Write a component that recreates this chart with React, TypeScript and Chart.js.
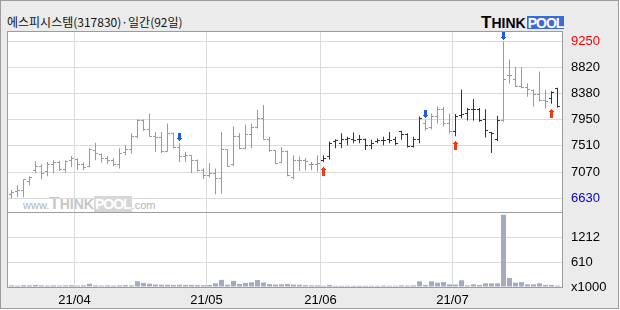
import React, { useEffect, useRef } from 'react';
import { Chart, registerables } from 'chart.js';

Chart.register(...registerables);

const TITLE = '에스피시스템(317830)·일간(92일)';

// Daily OHLC (92 trading days, 2021-03-17 .. 2021-07-26)
const opens = [
  6700, 6740, 6770, 6910, 7100, 7160, 7080, 7190, 7230, 7120,
  7260, 7280, 7190, 7160, 7430, 7370, 7300, 7270, 7200, 7390,
  7450, 7670, 7930, 7780, 7670, 7650, 7420, 7720, 7480, 7330,
  7340, 7260, 7090, 7020, 7040, 6960, 7440, 7190, 7660, 7470,
  7690, 7820, 7970, 7610, 7430, 7230, 7410, 6980, 7260, 7270,
  7200, 7190, 7260, 7330, 7580, 7550, 7620, 7610, 7610, 7610,
  7520, 7580, 7590, 7610, 7610, 7740, 7690, 7500, 7620, 7880,
  7820, 8000, 8120, 7880, 7740, 8010, 8050, 8120, 8120, 7950,
  7730, 7620, 7930, 8680, 8620, 8500, 8490, 8440, 8360, 8260,
  8300, 8470,
];
const highs = [
  6770, 6850, 6950, 7000, 7250, 7200, 7240, 7270, 7260, 7270,
  7340, 7300, 7230, 7470, 7560, 7380, 7340, 7300, 7470, 7520,
  7720, 7950, 7950, 8050, 7740, 7740, 7880, 7730, 7550, 7410,
  7350, 7280, 7130, 7220, 7130, 7740, 7450, 7830, 7720, 7860,
  7880, 8110, 8190, 7660, 7440, 7490, 7430, 7350, 7330, 7300,
  7240, 7350, 7350, 7580, 7620, 7720, 7660, 7730, 7690, 7630,
  7610, 7630, 7660, 7740, 7660, 7760, 7720, 7660, 8000, 7940,
  8050, 8170, 8160, 8050, 8040, 8450, 8140, 8290, 8140, 8120,
  7740, 8010, 9250, 8950, 8830, 8820, 8550, 8450, 8750, 8440,
  8420, 8480,
];
const lows = [
  6630, 6660, 6650, 6850, 7050, 6950, 7000, 7050, 7090, 7060,
  7150, 7100, 7100, 7150, 7270, 7230, 7200, 7170, 7130, 7350,
  7380, 7630, 7760, 7660, 7410, 7390, 7410, 7470, 7240, 7240,
  7050, 7080, 6950, 6980, 6700, 6710, 7160, 7170, 7450, 7450,
  7470, 7800, 7610, 7410, 7200, 7220, 7000, 6950, 7090, 7100,
  7100, 7080, 7240, 7280, 7470, 7470, 7520, 7550, 7550, 7440,
  7450, 7550, 7520, 7550, 7520, 7610, 7480, 7480, 7550, 7760,
  7780, 7880, 7830, 7720, 7670, 7970, 7930, 7930, 7910, 7650,
  7390, 7590, 7910, 8550, 8490, 8470, 8330, 8160, 8250, 8130,
  8210, 8150,
];
const closes = [
  6730, 6770, 6940, 6980, 7160, 7050, 7190, 7230, 7120, 7240,
  7300, 7200, 7150, 7440, 7380, 7300, 7270, 7200, 7380, 7450,
  7660, 7930, 7780, 7670, 7650, 7410, 7720, 7480, 7330, 7350,
  7270, 7090, 7020, 7040, 6960, 7440, 7170, 7660, 7470, 7690,
  7820, 7970, 7610, 7430, 7210, 7410, 7020, 7260, 7270, 7240,
  7200, 7210, 7300, 7550, 7590, 7610, 7630, 7590, 7620, 7520,
  7550, 7590, 7590, 7590, 7550, 7700, 7490, 7620, 7970, 7800,
  8000, 8110, 7880, 7740, 8000, 8040, 8120, 8110, 7940, 7770,
  7720, 7930, 8620, 8690, 8500, 8490, 8450, 8360, 8260, 8250,
  8400, 8160,
];
// Volume in thousands of shares
const volumes = [
  40, 35, 45, 40, 50, 40, 35, 40, 35, 40,
  45, 35, 40, 80, 40, 35, 40, 35, 40, 45,
  40, 140, 100, 80, 60, 55, 55, 50, 55, 50,
  50, 45, 45, 50, 90, 175, 55, 150, 75, 100,
  115, 170, 110, 70, 60, 65, 75, 60, 55, 45,
  40, 40, 30, 50, 30, 30, 30, 30, 30, 30,
  30, 30, 35, 30, 30, 40, 35, 40, 140, 50,
  140, 105, 120, 65, 60, 165, 40, 65, 50, 90,
  90, 90, 1770, 220, 105, 120, 65, 65, 90, 50,
  50, 35,
];
const buySignals = [52, 74, 90];
const sellSignals = [28, 69, 82];
const monthTickPos = [10.5, 32.5, 51.5, 73.5];
const monthTickLabels = ['21/04', '21/05', '21/06', '21/07'];
const priceTicks = [6630, 7070, 7510, 7950, 8380, 8820, 9250];
const volumeTicks = [0, 610, 1212];
const volumeTickLabels = ['x1000', '610', '1212'];

const XMIN = -0.5 - 1 / 12;
const XMAX = XMIN + 554 / 6;
const PPX = 2620 / 157;
const PMAX = 9250 + 9.5 * PPX;
const PMIN = 6630 - 13.5 * PPX;
const VMAX = 74 * (1212 / 49.5);

const DARK = '#333333';
const GRAY = '#9a9a9a';
const GRID = '#dadada';
const VOLCOLOR = '#a3aac2';
const AXISFONT = { family: "'Liberation Sans Narrow', 'Liberation Sans', Arial, sans-serif", size: 13 };

function pixelCanvas(w: number, h: number, color: string, rects: number[][]) {
  const c = document.createElement('canvas');
  c.width = w;
  c.height = h;
  const g = c.getContext('2d')!;
  g.fillStyle = color;
  rects.forEach(([x, y, rw, rh]) => g.fillRect(x, y, rw, rh));
  return c;
}

const crisp = {
  id: 'crisp',
  beforeDatasetsDraw(chart: any) {
    chart.ctx.imageSmoothingEnabled = false;
  },
};

export default function App() {
  const priceRef = useRef<HTMLCanvasElement>(null);
  const volRef = useRef<HTMLCanvasElement>(null);

  useEffect(() => {
    const barColors: string[] = [];
    let dark = false;
    for (let i = 0; i < closes.length; i++) {
      if (buySignals.includes(i)) dark = true;
      if (sellSignals.includes(i)) dark = false;
      barColors.push(dark ? DARK : GRAY);
    }
    const openTick: Record<string, HTMLCanvasElement> = {
      [DARK]: pixelCanvas(5, 1, DARK, [[0, 0, 2, 1]]),
      [GRAY]: pixelCanvas(5, 1, GRAY, [[0, 0, 2, 1]]),
    };
    const closeTick: Record<string, HTMLCanvasElement> = {
      [DARK]: pixelCanvas(5, 1, DARK, [[3, 0, 2, 1]]),
      [GRAY]: pixelCanvas(5, 1, GRAY, [[3, 0, 2, 1]]),
    };
    const downArrow = pixelCanvas(5, 24, '#1b5fe0', [
      [1, 2, 3, 5], [0, 7, 5, 1], [1, 8, 3, 1], [2, 9, 1, 1],
    ]);
    const upArrow = pixelCanvas(5, 32, '#f03c14', [
      [2, 21, 1, 1], [1, 22, 3, 1], [0, 23, 5, 1], [1, 24, 3, 6],
    ]);

    const xScale = (showLabels: boolean, height: number) => ({
      type: 'linear',
      min: XMIN,
      max: XMAX,
      offset: false,
      position: 'bottom',
      afterBuildTicks: (s: any) => {
        s.ticks = monthTickPos.map((v) => ({ value: v }));
      },
      afterFit: (s: any) => {
        s.height = height;
      },
      ticks: {
        display: showLabels,
        autoSkip: false,
        maxRotation: 0,
        padding: 6,
        color: '#000',
        font: AXISFONT,
        callback: (v: number) => monthTickLabels[monthTickPos.indexOf(v)],
      },
      grid: { color: GRID, drawTicks: false, offset: false },
      border: { display: false },
    });

    const priceChart = new Chart(priceRef.current!, {
      type: 'bar',
      data: {
        datasets: [
          {
            type: 'scatter',
            data: sellSignals.map((i) => ({ x: i, y: highs[i] })),
            pointStyle: downArrow,
            pointRadius: 1,
            clip: false,
            order: 0,
          } as any,
          {
            type: 'scatter',
            data: buySignals.map((i) => ({ x: i, y: lows[i] })),
            pointStyle: upArrow,
            pointRadius: 1,
            clip: false,
            order: 0,
          } as any,
          {
            type: 'scatter',
            data: opens.map((v, i) => ({ x: i, y: v })),
            pointStyle: (c: any) => openTick[barColors[c.dataIndex ?? 0]],
            pointRadius: 1,
            order: 1,
          } as any,
          {
            type: 'scatter',
            data: closes.map((v, i) => ({ x: i, y: v })),
            pointStyle: (c: any) => closeTick[barColors[c.dataIndex ?? 0]],
            pointRadius: 1,
            order: 1,
          } as any,
          {
            type: 'bar',
            data: highs.map((h, i) => ({ x: i, y: [lows[i], h] })),
            backgroundColor: barColors,
            barThickness: 1,
            inflateAmount: 0,
            borderWidth: 0,
            order: 2,
          } as any,
        ],
      },
      options: {
        responsive: false,
        animation: false,
        devicePixelRatio: 1,
        events: [],
        layout: { padding: { left: 8, top: 32, right: 0, bottom: 98 } },
        plugins: { legend: { display: false }, tooltip: { enabled: false } },
        scales: {
          x: xScale(false, 0),
          y: {
            type: 'linear',
            position: 'right',
            min: PMIN,
            max: PMAX,
            afterBuildTicks: (s: any) => {
              s.ticks = priceTicks.map((v) => ({ value: v }));
            },
            afterFit: (s: any) => {
              s.width = 58;
            },
            ticks: {
              autoSkip: false,
              padding: 9,
              font: AXISFONT,
              color: (c: any) =>
                c.tick && c.tick.value === 9250 ? '#ff0000' : c.tick && c.tick.value === 6630 ? '#0000c8' : '#000000',
              callback: (v: number) => String(v),
            },
            grid: { color: GRID, drawTicks: false },
            border: { display: false },
          },
        },
      } as any,
      plugins: [crisp],
    });

    const volumeChart = new Chart(volRef.current!, {
      type: 'bar',
      data: {
        datasets: [
          {
            data: volumes.map((v, i) => ({ x: i, y: v })),
            backgroundColor: VOLCOLOR,
            barThickness: 5,
            inflateAmount: 0,
            borderWidth: 0,
          } as any,
        ],
      },
      options: {
        responsive: false,
        animation: false,
        devicePixelRatio: 1,
        events: [],
        layout: { padding: { left: 8, top: 213, right: 0, bottom: 0 } },
        plugins: { legend: { display: false }, tooltip: { enabled: false } },
        scales: {
          x: xScale(true, 23),
          y: {
            type: 'linear',
            position: 'right',
            min: 0,
            max: VMAX,
            afterBuildTicks: (s: any) => {
              s.ticks = volumeTicks.map((v) => ({ value: v }));
            },
            afterFit: (s: any) => {
              s.width = 58;
            },
            ticks: {
              autoSkip: false,
              padding: 9,
              font: AXISFONT,
              color: '#000000',
              callback: (v: number) => volumeTickLabels[volumeTicks.indexOf(v)],
            },
            grid: {
              color: (c: any) => (c.tick && c.tick.value === 0 ? 'rgba(0,0,0,0)' : GRID),
              drawTicks: false,
            },
            border: { display: false },
          },
        },
      } as any,
      plugins: [crisp],
    });

    return () => {
      priceChart.destroy();
      volumeChart.destroy();
    };
  }, []);

  const abs = (s: React.CSSProperties): React.CSSProperties => ({ position: 'absolute', ...s });
  const sans = "'Liberation Sans', Arial, sans-serif";

  return (
    <div style={{ position: 'fixed', left: 0, top: 0, width: 620, height: 310, background: '#ffffff', overflow: 'hidden' }}>
      <div style={abs({ left: 0, top: 0, width: 617, height: 307, border: '1px solid #9c9c9c', background: '#ebebeb' })} />
      <div
        style={abs({
          left: 7,
          top: 15,
          fontFamily: "'Noto Sans CJK KR', 'Noto Sans', sans-serif",
          fontSize: 12,
          lineHeight: '14px',
          color: '#111',
          whiteSpace: 'nowrap',
        })}
      >
        {TITLE}
      </div>
      <div style={abs({ left: 481, top: 14, fontFamily: sans, fontWeight: 'bold', color: '#000', lineHeight: '17px', fontSize: 17, whiteSpace: 'nowrap' })}>
        <span style={{ fontSize: 17 }}>T</span>
        <span style={{ fontSize: 14 }}>HINK</span>
      </div>
      <div
        style={abs({
          left: 527,
          top: 16,
          width: 37,
          height: 13,
          background: '#3c6ad6',
          color: '#fff',
          fontFamily: sans,
          fontWeight: 'bold',
          fontSize: 14,
          letterSpacing: -1,
          lineHeight: '14px',
          textAlign: 'center',
          whiteSpace: 'nowrap',
        })}
      >
        POOL
      </div>
      <div style={abs({ left: 7, top: 31, width: 554, height: 255, border: '1px solid #9c9c9c', background: '#ffffff' })} />
      <div style={abs({ left: 8, top: 212, width: 554, height: 1, background: '#9c9c9c' })} />
      <div style={abs({ left: 23, top: 195, fontFamily: sans, lineHeight: '17px', fontSize: 17, whiteSpace: 'nowrap' })}>
        <span style={{ fontSize: 11, color: '#b4b4b4' }}>www.</span>
        <span style={{ fontSize: 17, fontWeight: 'bold', color: '#c6c6c6' }}>T</span>
        <span style={{ fontSize: 14, fontWeight: 'bold', color: '#c6c6c6' }}>HINK</span>
        <span style={{ fontSize: 14, fontWeight: 'bold', color: '#ffffff', background: '#d6d6d6', letterSpacing: -1, padding: '0 1px' }}>POOL</span>
        <span style={{ fontSize: 11, color: '#b4b4b4' }}>.com</span>
      </div>
      <canvas ref={priceRef} width={620} height={310} style={abs({ left: 0, top: 0, width: 620, height: 310 })} />
      <canvas ref={volRef} width={620} height={310} style={abs({ left: 0, top: 0, width: 620, height: 310 })} />
    </div>
  );
}
